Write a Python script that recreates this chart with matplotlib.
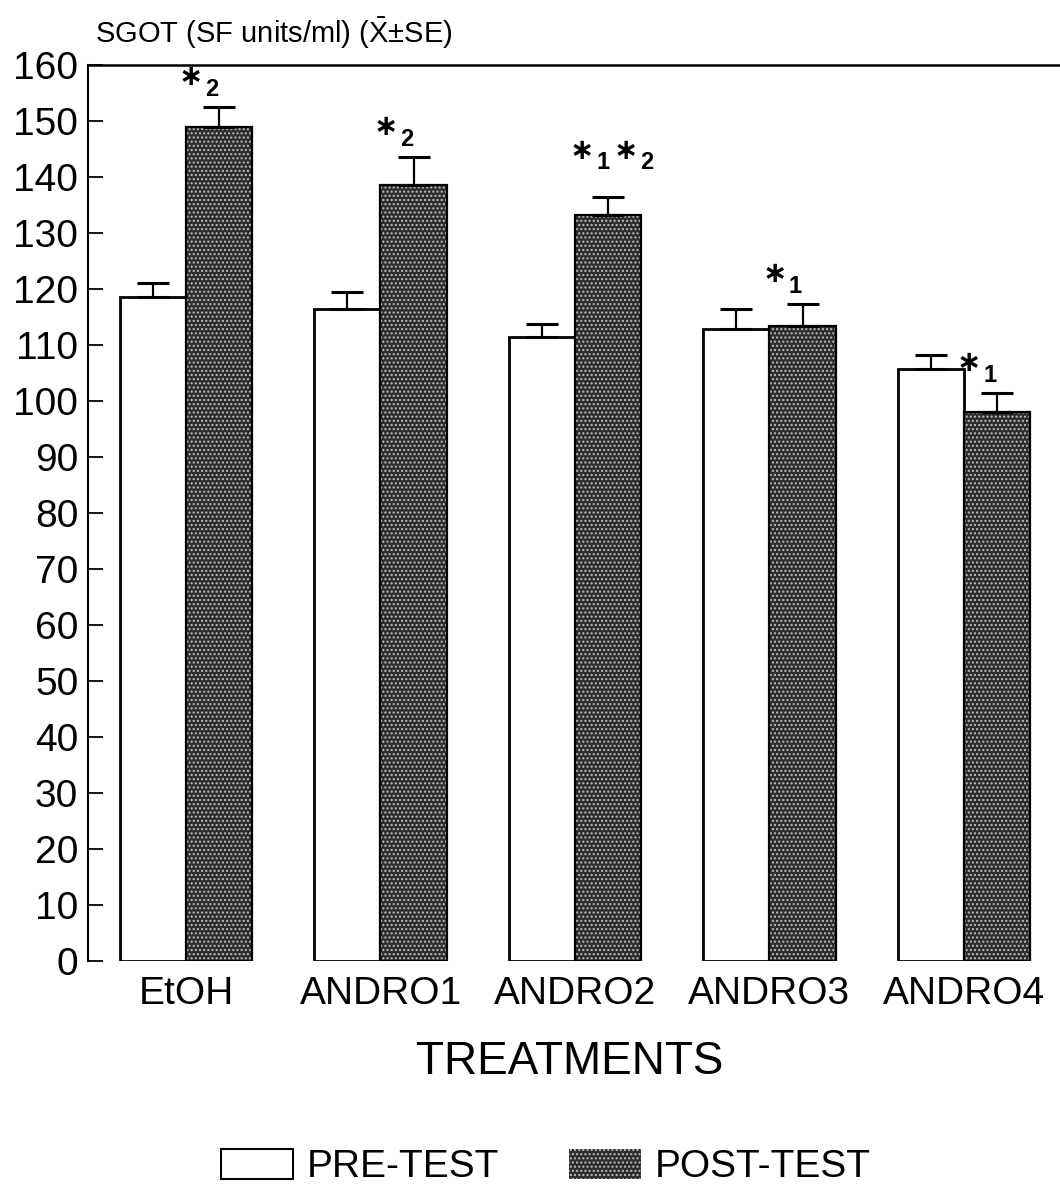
import numpy as np
import matplotlib
matplotlib.use("Agg")
import matplotlib.pyplot as plt
from matplotlib.patches import Patch

# ---- data -------------------------------------------------------------
treatments = ["EtOH", "ANDRO1", "ANDRO2", "ANDRO3", "ANDRO4"]
pre_mean = [118.5, 116.5, 111.5, 112.8, 105.7]
pre_se = [2.5, 3.0, 2.3, 3.7, 2.5]
post_mean = [149.0, 138.5, 133.2, 113.4, 98.0]
post_se = [3.5, 5.0, 3.3, 3.9, 3.4]
# significance marks above the post-test bars (subscript numbers)
post_marks = [["2"], ["2"], ["1", "2"], ["1"], ["1"]]
y_ticks = list(range(0, 161, 10))

# ---- style ------------------------------------------------------------
plt.rcParams["font.family"] = ["Liberation Sans", "DejaVu Sans"]
plt.rcParams["mathtext.fontset"] = "custom"
plt.rcParams["mathtext.rm"] = "Liberation Sans"
plt.rcParams["mathtext.it"] = "Liberation Sans:italic"
plt.rcParams["mathtext.bf"] = "Liberation Sans:bold"
plt.rcParams["hatch.linewidth"] = 1.0

W, H = 1060, 1193
fig = plt.figure(figsize=(W / 100, H / 100), dpi=100)
fig.patch.set_facecolor("white")

ax_left, ax_top, ax_bottom = 88, 65, 961
ax = fig.add_axes([ax_left / W, 1 - ax_bottom / H, 1 - ax_left / W,
                   (ax_bottom - ax_top) / H])

x = np.arange(len(treatments))
bw = 0.34
dark = "#2e2e2e"
dots = "#bdbdbd"

# pre-test: open bars
ax.bar(x - bw / 2, pre_mean, width=bw, facecolor="white",
       edgecolor="black", linewidth=2.0, zorder=2)
# post-test: dark screened bars
ax.bar(x + bw / 2, post_mean, width=bw, facecolor=dark,
       edgecolor="black", linewidth=1.2, zorder=2)
ax.bar(x + bw / 2, post_mean, width=bw, facecolor="none",
       edgecolor=dots, hatch="....", linewidth=0, zorder=3)
ax.bar(x + bw / 2, post_mean, width=bw, facecolor="none",
       edgecolor="black", linewidth=1.6, zorder=4)

# upper standard-error bars
zeros = np.zeros(len(x))
ax.errorbar(x - bw / 2, pre_mean, yerr=[zeros, pre_se], fmt="none",
            ecolor="black", elinewidth=1.6, capsize=11.5, capthick=2.2,
            zorder=5)
ax.errorbar(x + bw / 2, post_mean, yerr=[zeros, post_se], fmt="none",
            ecolor="black", elinewidth=1.6, capsize=11.5, capthick=2.2,
            zorder=5)

# significance asterisks with subscript numbers
px = 0.72  # points per pixel
for i, marks in enumerate(post_marks):
    top = post_mean[i] + post_se[i]
    pair = len(marks) > 1
    lift = 46 if pair else 30
    starts = [-26, 18] if pair else [-28]
    for m, sx in zip(marks, starts):
        ax.annotate("\u2217", xy=(x[i] + bw / 2, top),
                    xytext=(sx * px, lift * px), textcoords="offset points",
                    ha="center", va="center", fontsize=21,
                    fontweight="bold", family="DejaVu Sans",
                    annotation_clip=False, zorder=6)
        ax.annotate(m, xy=(x[i] + bw / 2, top),
                    xytext=((sx + 21) * px, (lift - 12) * px),
                    textcoords="offset points", ha="center", va="center",
                    fontsize=17, fontweight="bold",
                    annotation_clip=False, zorder=6)

# ---- axes -------------------------------------------------------------
ax.set_xlim(-0.504, 4.494)
ax.set_ylim(0, 160)
for side in ("right", "bottom"):
    ax.spines[side].set_visible(False)
ax.spines["left"].set_linewidth(1.5)
ax.spines["top"].set_linewidth(1.8)

ax.set_yticks(y_ticks)
ax.set_yticklabels([str(v) for v in y_ticks])
ax.tick_params(axis="y", direction="in", length=11, width=1.3,
               labelsize=28, pad=7)
ax.set_xticks(x)
ax.set_xticklabels(treatments)
ax.tick_params(axis="x", length=0, labelsize=28, pad=11)
ax.set_facecolor("none")

fig.text(95 / W, 1 - 33 / H, r"SGOT (SF units/ml) ($\bar{\mathrm{X}}$±SE)",
         fontsize=21, ha="left", va="center")
fig.text(570 / W, 1 - 1062 / H, "TREATMENTS", fontsize=33,
         ha="center", va="center")

# legend
h_pre = Patch(facecolor="white", edgecolor="black", linewidth=1.5)
h_post = Patch(facecolor=dark, edgecolor=dots, hatch="....",
               linewidth=0)
fig.legend([h_pre, h_post], ["PRE-TEST", "POST-TEST"], ncol=2,
           loc="center", bbox_to_anchor=(546 / W, 1 - 1167 / H),
           frameon=False, fontsize=28, handlelength=1.85,
           handleheight=0.8, handletextpad=0.35, columnspacing=1.8)

fig.savefig("out.png", dpi=100, facecolor="white")
